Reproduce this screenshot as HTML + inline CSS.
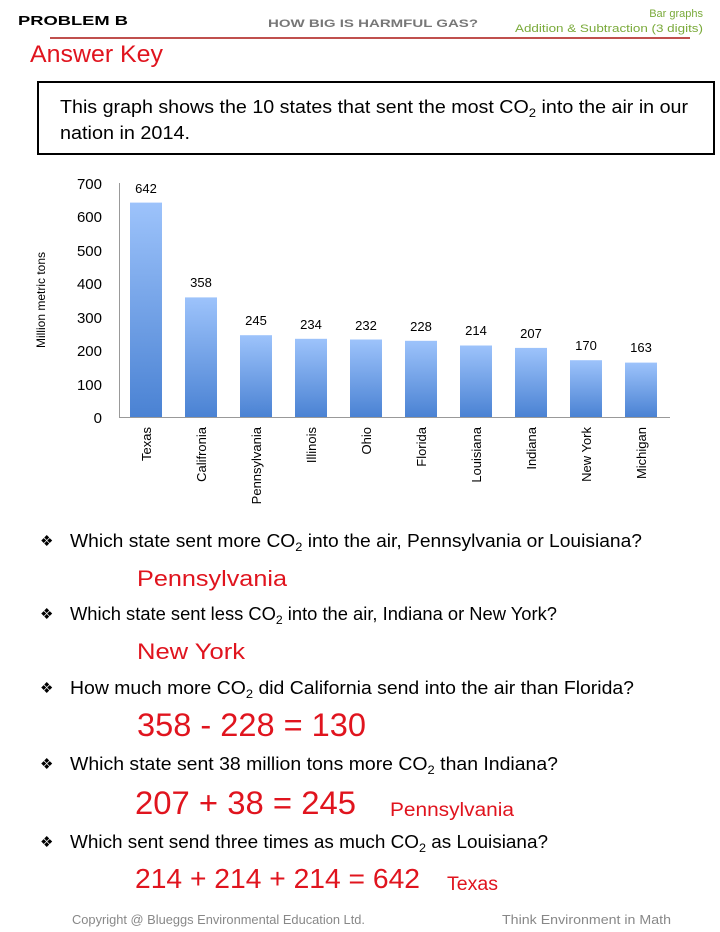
<!DOCTYPE html>
<html><head><meta charset="utf-8"><style>
html,body{margin:0;padding:0;background:#fff;}
svg{display:block;font-family:"Liberation Sans",sans-serif;}
</style></head><body>
<svg width="720" height="932" viewBox="0 0 720 932" xmlns="http://www.w3.org/2000/svg">
<defs>
<linearGradient id="g" x1="0" y1="0" x2="0" y2="1">
<stop offset="0" stop-color="#9dc3fb"/><stop offset="1" stop-color="#4a82d3"/>
</linearGradient>
</defs>
<text x="18" y="25" font-size="13" font-weight="bold" textLength="110" lengthAdjust="spacingAndGlyphs">PROBLEM B</text>
<text x="268" y="27" font-size="11" font-weight="bold" fill="#777" textLength="210" lengthAdjust="spacingAndGlyphs">HOW BIG IS HARMFUL GAS?</text>
<text x="703" y="17" font-size="11" fill="#7aaa3a" text-anchor="end">Bar graphs</text>
<text x="703" y="32" font-size="11" fill="#7aaa3a" text-anchor="end" textLength="188" lengthAdjust="spacingAndGlyphs">Addition &amp; Subtraction (3 digits)</text>
<line x1="50" y1="38" x2="690" y2="38" stroke="#c0504d" stroke-width="2"/>
<text x="30" y="62" font-size="24" fill="#e0141e" textLength="133" lengthAdjust="spacingAndGlyphs">Answer Key</text>
<rect x="38" y="82" width="676" height="72" fill="none" stroke="#000" stroke-width="2"/>
<text x="60" y="113" font-size="18" textLength="628" lengthAdjust="spacingAndGlyphs">This graph shows the 10 states that sent the most CO<tspan font-size="12" dy="4">2</tspan><tspan dy="-4"> into the air in our</tspan></text>
<text x="60" y="139" font-size="18" textLength="130" lengthAdjust="spacingAndGlyphs">nation in 2014.</text>
<!-- chart -->
<g font-size="15" text-anchor="end">
<text x="102" y="423">0</text><text x="102" y="390">100</text><text x="102" y="356">200</text><text x="102" y="323">300</text><text x="102" y="289">400</text><text x="102" y="256">500</text><text x="102" y="222">600</text><text x="102" y="189">700</text>
</g>
<text transform="translate(45,300) rotate(-90)" font-size="12" text-anchor="middle">Million metric tons</text>
<line x1="119.5" y1="183" x2="119.5" y2="417" stroke="#999"/>
<line x1="119" y1="417.5" x2="670" y2="417.5" stroke="#999"/>
<g fill="url(#g)">
<rect x="130" y="202.6" width="32" height="214.4"/>
<rect x="185" y="297.4" width="32" height="119.6"/>
<rect x="240" y="335.2" width="32" height="81.8"/>
<rect x="295" y="338.8" width="32" height="78.2"/>
<rect x="350" y="339.5" width="32" height="77.5"/>
<rect x="405" y="340.8" width="32" height="76.2"/>
<rect x="460" y="345.5" width="32" height="71.5"/>
<rect x="515" y="347.9" width="32" height="69.1"/>
<rect x="570" y="360.2" width="32" height="56.8"/>
<rect x="625" y="362.6" width="32" height="54.4"/>
</g>
<g font-size="13" text-anchor="middle">
<text x="146" y="193">642</text><text x="201" y="287">358</text><text x="256" y="325">245</text><text x="311" y="329">234</text><text x="366" y="330">232</text><text x="421" y="331">228</text><text x="476" y="335">214</text><text x="531" y="338">207</text><text x="586" y="350">170</text><text x="641" y="352">163</text>
</g>
<g font-size="13" text-anchor="end">
<text transform="translate(151,427) rotate(-90)">Texas</text>
<text transform="translate(206,427) rotate(-90)">Califronia</text>
<text transform="translate(261,427) rotate(-90)">Pennsylvania</text>
<text transform="translate(316,427) rotate(-90)">Illinois</text>
<text transform="translate(371,427) rotate(-90)">Ohio</text>
<text transform="translate(426,427) rotate(-90)">Florida</text>
<text transform="translate(481,427) rotate(-90)">Louisiana</text>
<text transform="translate(536,427) rotate(-90)">Indiana</text>
<text transform="translate(591,427) rotate(-90)">New York</text>
<text transform="translate(646,427) rotate(-90)">Michigan</text>
</g>
<!-- questions -->
<g font-size="15"><text x="40" y="546">❖</text><text x="40" y="619">❖</text><text x="40" y="693">❖</text><text x="40" y="769">❖</text><text x="40" y="847">❖</text></g>
<g font-size="18">
<text x="70" y="547" textLength="572" lengthAdjust="spacingAndGlyphs">Which state sent more CO<tspan font-size="12" dy="4">2</tspan><tspan dy="-4"> into the air, Pennsylvania or Louisiana?</tspan></text>
<text x="70" y="620" textLength="487" lengthAdjust="spacingAndGlyphs">Which state sent less CO<tspan font-size="12" dy="4">2</tspan><tspan dy="-4"> into the air, Indiana or New York?</tspan></text>
<text x="70" y="694" textLength="564" lengthAdjust="spacingAndGlyphs">How much more CO<tspan font-size="12" dy="4">2</tspan><tspan dy="-4"> did California send into the air than Florida?</tspan></text>
<text x="70" y="770" textLength="488" lengthAdjust="spacingAndGlyphs">Which state sent 38 million tons more CO<tspan font-size="12" dy="4">2</tspan><tspan dy="-4"> than Indiana?</tspan></text>
<text x="70" y="848" textLength="478" lengthAdjust="spacingAndGlyphs">Which sent send three times as much CO<tspan font-size="12" dy="4">2</tspan><tspan dy="-4"> as Louisiana?</tspan></text>
</g>
<g fill="#e0141e">
<text x="137" y="586" font-size="22" textLength="150" lengthAdjust="spacingAndGlyphs">Pennsylvania</text>
<text x="137" y="659" font-size="22" textLength="108" lengthAdjust="spacingAndGlyphs">New York</text>
<text x="137" y="736" font-size="32" textLength="229" lengthAdjust="spacingAndGlyphs">358 - 228 = 130</text>
<text x="135" y="814" font-size="32" textLength="221" lengthAdjust="spacingAndGlyphs">207 + 38 = 245</text>
<text x="390" y="816" font-size="19" textLength="124" lengthAdjust="spacingAndGlyphs">Pennsylvania</text>
<text x="135" y="888" font-size="28" textLength="285" lengthAdjust="spacingAndGlyphs">214 + 214 + 214 = 642</text>
<text x="447" y="890" font-size="19" textLength="51" lengthAdjust="spacingAndGlyphs">Texas</text>
</g>
<text x="72" y="924" font-size="13" fill="#888" textLength="293" lengthAdjust="spacingAndGlyphs">Copyright @ Blueggs Environmental Education Ltd.</text>
<text x="502" y="924" font-size="13" fill="#888" textLength="169" lengthAdjust="spacingAndGlyphs">Think Environment in Math</text>
</svg>
</body></html>
